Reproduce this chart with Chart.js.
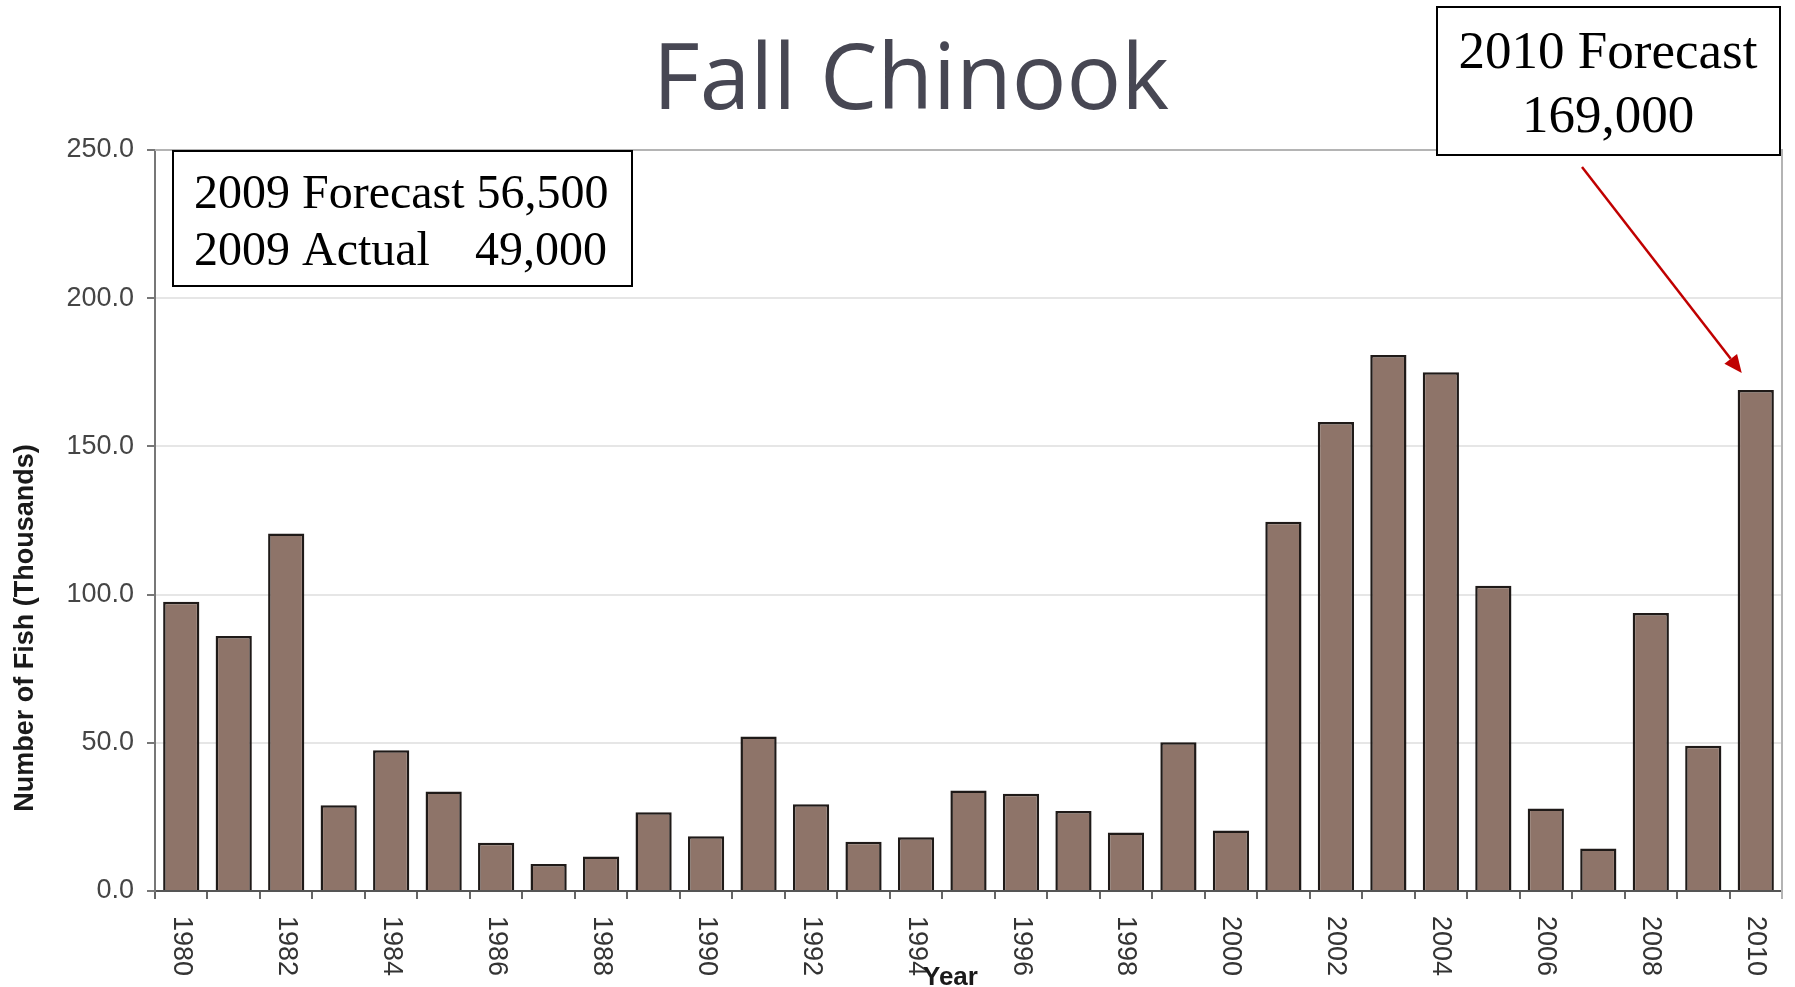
<!DOCTYPE html>
<html>
<head>
<meta charset="utf-8">
<script src="https://cdn.jsdelivr.net/npm/chart.js@4/dist/chart.umd.min.js"></script>
<style>
  html, body { margin: 0; padding: 0; background: #ffffff; }
  #wrap { width: 1795px; height: 987px; position: relative; }
</style>
</head>
<body>
<div id="wrap"><canvas id="c" width="1795" height="987"></canvas></div>
<script>
// ---- data ----
const years = ['1980','1981','1982','1983','1984','1985','1986','1987','1988','1989','1990',
               '1991','1992','1993','1994','1995','1996','1997','1998','1999','2000',
               '2001','2002','2003','2004','2005','2006','2007','2008','2009','2010'];
const fishThousands = [97.6, 86.0, 120.6, 28.9, 47.5, 33.6, 16.3, 9.1, 11.6, 26.6, 18.5,
                       52.1, 29.3, 16.6, 18.1, 33.9, 32.8, 27.0, 19.7, 50.2, 20.4,
                       124.6, 158.2, 180.8, 175.0, 103.0, 27.8, 14.3, 93.8, 49.0, 169.0];
const xTickLabels = ['1980','1982','1984','1986','1988','1990','1992','1994','1996','1998',
                     '2000','2002','2004','2006','2008','2010'];
const yTickValues = [0, 50, 100, 150, 200, 250];
const titleText = 'Fall Chinook';
const xAxisTitle = 'Year';
const yAxisTitle = 'Number of Fish (Thousands)';
const box2009 = ['2009 Forecast 56,500', '2009 Actual', '49,000'];
const box2010 = ['2010 Forecast', '169,000'];
const arrowTarget = { year: '2010', value: 169.0 };

// ---- decorations plugin ----
const decor = {
  id: 'decor',
  beforeDraw(chart) {
    const ctx = chart.ctx;
    ctx.save();
    ctx.fillStyle = '#ffffff';
    ctx.fillRect(0, 0, chart.width, chart.height);
    ctx.restore();
  },
  afterDraw(chart) {
    const ctx = chart.ctx;
    const xs = chart.scales.x, ys = chart.scales.y;
    const a = chart.chartArea;
    ctx.save();

    // plot frame (top and right)
    ctx.strokeStyle = '#b4b4b4';
    ctx.lineWidth = 2;
    ctx.beginPath();
    ctx.moveTo(a.left, a.top);
    ctx.lineTo(a.right, a.top);
    ctx.lineTo(a.right, a.bottom + 8);
    ctx.stroke();

    // title
    ctx.fillStyle = '#474753';
    ctx.font = '91px "Open Sans"';
    ctx.textAlign = 'center';
    ctx.textBaseline = 'alphabetic';
    ctx.fillText(titleText, 911, 109);

    // x tick labels (rotated clockwise)
    ctx.fillStyle = '#333333';
    ctx.font = '27px "Liberation Sans"';
    ctx.textAlign = 'left';
    ctx.textBaseline = 'middle';
    xTickLabels.forEach(lab => {
      const i = years.indexOf(lab);
      const x = xs.getPixelForValue(i);
      ctx.save();
      ctx.translate(x, a.bottom + 25);
      ctx.rotate(Math.PI / 2);
      ctx.fillText(lab, 0, 0);
      ctx.restore();
    });

    // x axis title
    ctx.fillStyle = '#1a1a1a';
    ctx.font = 'bold 26px "Liberation Sans"';
    ctx.textAlign = 'left';
    ctx.textBaseline = 'alphabetic';
    ctx.fillText(xAxisTitle, 923, 985);

    // y axis title
    ctx.save();
    ctx.translate(26, 628);
    ctx.rotate(-Math.PI / 2);
    ctx.fillStyle = '#1a1a1a';
    ctx.font = 'bold 27px "Liberation Sans"';
    ctx.textAlign = 'center';
    ctx.textBaseline = 'middle';
    ctx.fillText(yAxisTitle, 0, 0);
    ctx.restore();

    // 2009 box
    ctx.fillStyle = '#ffffff';
    ctx.fillRect(173, 151, 459, 135);
    ctx.strokeStyle = '#000000';
    ctx.lineWidth = 2;
    ctx.strokeRect(173, 151, 459, 135);
    ctx.fillStyle = '#000000';
    ctx.font = '48px "Liberation Serif"';
    ctx.textBaseline = 'alphabetic';
    ctx.textAlign = 'left';
    ctx.fillText(box2009[0], 194, 208);
    ctx.fillText(box2009[1], 194, 265);
    ctx.textAlign = 'right';
    ctx.fillText(box2009[2], 607, 265);

    // 2010 box
    ctx.fillStyle = '#ffffff';
    ctx.fillRect(1437, 7, 343, 148);
    ctx.strokeStyle = '#000000';
    ctx.lineWidth = 2;
    ctx.strokeRect(1437, 7, 343, 148);
    ctx.fillStyle = '#000000';
    ctx.font = '53px "Liberation Serif"';
    ctx.textAlign = 'center';
    ctx.fillText(box2010[0], 1608, 68);
    ctx.fillText(box2010[1], 1608, 132);

    // arrow
    const tx = xs.getPixelForValue(years.indexOf(arrowTarget.year)) - 14;
    const ty = ys.getPixelForValue(arrowTarget.value) - 17;
    const sx = 1582, sy = 167;
    const ang = Math.atan2(ty - sy, tx - sx);
    const headLen = 18, headW = 8;
    const bx = tx - headLen * Math.cos(ang), by = ty - headLen * Math.sin(ang);
    ctx.strokeStyle = '#c00000';
    ctx.fillStyle = '#c00000';
    ctx.lineWidth = 2.5;
    ctx.beginPath();
    ctx.moveTo(sx, sy);
    ctx.lineTo(bx, by);
    ctx.stroke();
    ctx.beginPath();
    ctx.moveTo(tx, ty);
    ctx.lineTo(bx + headW * Math.sin(ang), by - headW * Math.cos(ang));
    ctx.lineTo(bx - headW * Math.sin(ang), by + headW * Math.cos(ang));
    ctx.closePath();
    ctx.fill();

    ctx.restore();
  }
};

new Chart(document.getElementById('c'), {
  type: 'bar',
  data: {
    labels: years,
    datasets: [{
      label: 'Fall Chinook',
      data: fishThousands,
      backgroundColor: '#8e7469',
      borderColor: '#1f1a18',
      borderWidth: 2.5,
      categoryPercentage: 1.0,
      barPercentage: 0.69
    }]
  },
  options: {
    responsive: false,
    devicePixelRatio: 1,
    animation: false,
    layout: { padding: { top: 150, right: 13, bottom: 0, left: 0 } },
    plugins: {
      legend: { display: false },
      title: { display: false },
      tooltip: { enabled: false }
    },
    scales: {
      x: {
        type: 'category',
        offset: true,
        grid: {
          offset: true,
          drawOnChartArea: false,
          drawTicks: true,
          tickLength: 8,
          tickColor: '#666666',
          lineWidth: 2
        },
        border: { display: true, color: '#555555', width: 2 },
        ticks: { display: false },
        afterFit(scale) { scale.height = 96; }
      },
      y: {
        min: 0,
        max: 250,
        afterBuildTicks(scale) { scale.ticks = yTickValues.map(v => ({ value: v })); },
        ticks: {
          callback: v => Number(v).toFixed(1),
          font: { family: '"Liberation Sans"', size: 27 },
          color: '#454545',
          padding: 13
        },
        grid: {
          color: '#e6e6e6',
          lineWidth: 2,
          tickLength: 8,
          tickColor: '#777777'
        },
        border: { display: true, color: '#777777', width: 2 },
        afterFit(scale) { scale.width = 155; }
      }
    }
  },
  plugins: [decor]
});
</script>
</body>
</html>
